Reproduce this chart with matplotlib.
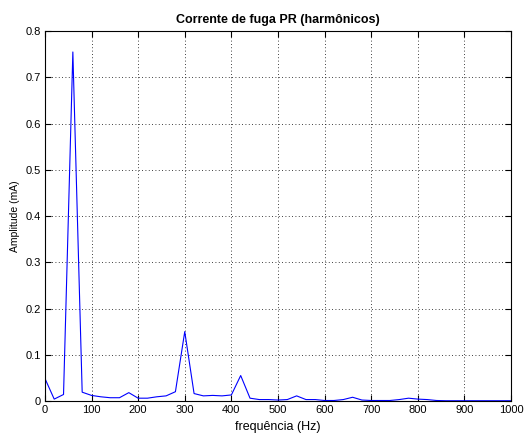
import matplotlib
matplotlib.use('Agg')
import matplotlib.pyplot as plt
import numpy as np

plt.rcParams['font.family'] = ['Liberation Sans', 'DejaVu Sans']

# espectro da corrente de fuga (passo de 20 Hz)
freq = np.arange(0, 1001, 20)
amplitude = [
    0.049, 0.004, 0.014, 0.755, 0.019, 0.012, 0.009, 0.007, 0.007, 0.018,
    0.006, 0.006, 0.009, 0.011, 0.020, 0.150, 0.016, 0.011, 0.012, 0.011,
    0.013, 0.055, 0.006, 0.003, 0.003, 0.002, 0.003, 0.011, 0.003, 0.003,
    0.001, 0.001, 0.003, 0.008, 0.002, 0.001, 0.001, 0.001, 0.003, 0.006,
    0.004, 0.003, 0.001, 0.0005, 0.0005, 0.0005, 0.0005, 0.0005, 0.0005, 0.0005,
    0.0005,
]

xticks = np.arange(0, 1001, 100)
yticks = np.arange(0, 0.81, 0.1)

fig = plt.figure(figsize=(5.28, 4.33), dpi=100)
ax = fig.add_axes([0.085, 0.074, 0.883, 0.854])

ax.plot(freq, amplitude, color='#0000ff', linewidth=0.8)

ax.set_xlim(0, 1000)
ax.set_ylim(0, 0.8)
ax.set_xticks(xticks)
ax.set_yticks(yticks)
ax.set_yticklabels(['0', '0.1', '0.2', '0.3', '0.4', '0.5', '0.6', '0.7', '0.8'])
ax.tick_params(direction='in', length=4, labelsize=8, top=True, right=True, pad=3)
ax.grid(True, linestyle=(0, (1, 3)), color='black', linewidth=0.6)

ax.set_xlabel('frequência (Hz)', fontsize=9)
ax.set_ylabel('Amplitude (mA)', fontsize=7.5)
ax.set_title('Corrente de fuga PR (harmônicos)', fontsize=9, fontweight='bold')

fig.savefig('out.png', dpi=100)
